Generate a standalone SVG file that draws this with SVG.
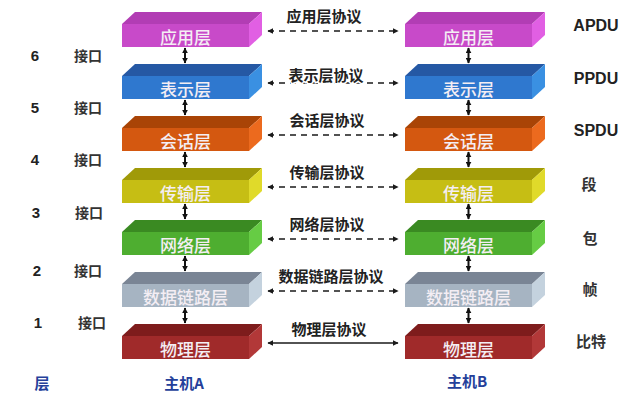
<svg xmlns="http://www.w3.org/2000/svg" width="629" height="401" viewBox="0 0 629 401">
<defs>
<marker id="ah" viewBox="0 0 10 10" refX="9" refY="5" markerWidth="6" markerHeight="6" markerUnits="userSpaceOnUse" orient="auto-start-reverse">
<path d="M0,0 L10,5 L0,10 z" fill="#1a1a1a"/>
</marker>
<marker id="vh" viewBox="0 0 10 10" refX="9" refY="5" markerWidth="6" markerHeight="6" markerUnits="userSpaceOnUse" orient="auto-start-reverse">
<path d="M0,0 L10,5 L0,10 z" fill="#111"/>
</marker>
</defs>
<style>
.bt{font-family:"Noto Sans CJK SC","Noto Sans",sans-serif;font-size:17px;font-weight:500;fill:#f4eef4;text-anchor:middle;dominant-baseline:central}
.pl{font-family:"Noto Sans CJK SC","Noto Sans",sans-serif;font-size:15px;font-weight:bold;fill:#222;text-anchor:middle;dominant-baseline:central;stroke:#fff;stroke-width:3px;paint-order:stroke}
.num{font-family:"Liberation Sans",Arial,sans-serif;font-size:15px;font-weight:bold;fill:#222;text-anchor:middle;dominant-baseline:central}
.jk{font-family:"Noto Sans CJK SC","Noto Sans",sans-serif;font-size:14px;font-weight:bold;fill:#333;text-anchor:middle;dominant-baseline:central}
.pdu{font-family:"Liberation Sans",Arial,sans-serif;font-size:16px;font-weight:bold;fill:#222;text-anchor:middle;dominant-baseline:central}
.pdc{font-family:"Noto Sans CJK SC","Noto Sans",sans-serif;font-size:15px;font-weight:bold;fill:#333;text-anchor:middle;dominant-baseline:central}
.bl{font-family:"Noto Sans CJK SC","Liberation Sans",sans-serif;font-size:15px;font-weight:bold;fill:#24409a;text-anchor:middle;dominant-baseline:central}
.dash{stroke:#1a1a1a;stroke-width:1.6;stroke-dasharray:6 5;fill:none;marker-start:url(#ah);marker-end:url(#ah)}
.solid{stroke:#1a1a1a;stroke-width:1.6;fill:none;marker-start:url(#ah);marker-end:url(#ah)}
.vert{stroke:#111;stroke-width:2;fill:none;marker-start:url(#vh);marker-end:url(#vh)}
</style>
<rect width="629" height="401" fill="#ffffff"/>

<!-- Host A layers -->
<g id="a-app">
<polygon points="122,24 135,12 262,12 249,24" fill="#b23db4"/>
<polygon points="249,24 262,12 262,35 249,47" fill="#e15fe3"/>
<rect x="122" y="24" width="127" height="23" fill="#c84ac9"/>
<text class="bt" x="185.5" y="36">应用层</text>
</g>
<g id="a-pre">
<polygon points="122,76 135,64 262,64 249,76" fill="#2558a4"/>
<polygon points="249,76 262,64 262,87 249,99" fill="#3a90e2"/>
<rect x="122" y="76" width="127" height="23" fill="#2f78cf"/>
<text class="bt" x="185.5" y="88">表示层</text>
</g>
<g id="a-ses">
<polygon points="122,128 135,116 262,116 249,128" fill="#a94406"/>
<polygon points="249,128 262,116 262,139 249,151" fill="#ec6a1e"/>
<rect x="122" y="128" width="127" height="23" fill="#d45810"/>
<text class="bt" x="185.5" y="140">会话层</text>
</g>
<g id="a-tra">
<polygon points="122,180 135,168 262,168 249,180" fill="#a09a08"/>
<polygon points="249,180 262,168 262,191 249,203" fill="#e0da2a"/>
<rect x="122" y="180" width="127" height="23" fill="#c6be14"/>
<text class="bt" x="185.5" y="192">传输层</text>
</g>
<g id="a-net">
<polygon points="122,232 135,220 262,220 249,232" fill="#3a8a22"/>
<polygon points="249,232 262,220 262,243 249,255" fill="#66cc44"/>
<rect x="122" y="232" width="127" height="23" fill="#4eae30"/>
<text class="bt" x="185.5" y="244">网络层</text>
</g>
<g id="a-dl">
<polygon points="122,284 135,272 262,272 249,284" fill="#7a8595"/>
<polygon points="249,284 262,272 262,295 249,307" fill="#c4d2de"/>
<rect x="122" y="284" width="127" height="23" fill="#a6b4c2"/>
<text class="bt" x="185.5" y="296">数据链路层</text>
</g>
<g id="a-phy">
<polygon points="122,336 135,324 262,324 249,336" fill="#7e1c1c"/>
<polygon points="249,336 262,324 262,347 249,359" fill="#b23838"/>
<rect x="122" y="336" width="127" height="23" fill="#a02a2a"/>
<text class="bt" x="185.5" y="348">物理层</text>
</g>

<!-- Host B layers -->
<g id="b-app">
<polygon points="405,24 418,12 545,12 532,24" fill="#b23db4"/>
<polygon points="532,24 545,12 545,35 532,47" fill="#e15fe3"/>
<rect x="405" y="24" width="127" height="23" fill="#c84ac9"/>
<text class="bt" x="468.5" y="36">应用层</text>
</g>
<g id="b-pre">
<polygon points="405,76 418,64 545,64 532,76" fill="#2558a4"/>
<polygon points="532,76 545,64 545,87 532,99" fill="#3a90e2"/>
<rect x="405" y="76" width="127" height="23" fill="#2f78cf"/>
<text class="bt" x="468.5" y="88">表示层</text>
</g>
<g id="b-ses">
<polygon points="405,128 418,116 545,116 532,128" fill="#a94406"/>
<polygon points="532,128 545,116 545,139 532,151" fill="#ec6a1e"/>
<rect x="405" y="128" width="127" height="23" fill="#d45810"/>
<text class="bt" x="468.5" y="140">会话层</text>
</g>
<g id="b-tra">
<polygon points="405,180 418,168 545,168 532,180" fill="#a09a08"/>
<polygon points="532,180 545,168 545,191 532,203" fill="#e0da2a"/>
<rect x="405" y="180" width="127" height="23" fill="#c6be14"/>
<text class="bt" x="468.5" y="192">传输层</text>
</g>
<g id="b-net">
<polygon points="405,232 418,220 545,220 532,232" fill="#3a8a22"/>
<polygon points="532,232 545,220 545,243 532,255" fill="#66cc44"/>
<rect x="405" y="232" width="127" height="23" fill="#4eae30"/>
<text class="bt" x="468.5" y="244">网络层</text>
</g>
<g id="b-dl">
<polygon points="405,284 418,272 545,272 532,284" fill="#7a8595"/>
<polygon points="532,284 545,272 545,295 532,307" fill="#c4d2de"/>
<rect x="405" y="284" width="127" height="23" fill="#a6b4c2"/>
<text class="bt" x="468.5" y="296">数据链路层</text>
</g>
<g id="b-phy">
<polygon points="405,336 418,324 545,324 532,336" fill="#7e1c1c"/>
<polygon points="532,336 545,324 545,347 532,359" fill="#b23838"/>
<rect x="405" y="336" width="127" height="23" fill="#a02a2a"/>
<text class="bt" x="468.5" y="348">物理层</text>
</g>

<!-- connectors -->
<g id="connectors">
<line class="vert" x1="185" y1="48" x2="185" y2="63"/>
<line class="vert" x1="185" y1="100" x2="185" y2="115"/>
<line class="vert" x1="185" y1="152" x2="185" y2="167"/>
<line class="vert" x1="185" y1="204" x2="185" y2="219"/>
<line class="vert" x1="185" y1="256" x2="185" y2="271"/>
<line class="vert" x1="185" y1="308" x2="185" y2="323"/>
<line class="vert" x1="468.5" y1="48" x2="468.5" y2="63"/>
<line class="vert" x1="468.5" y1="100" x2="468.5" y2="115"/>
<line class="vert" x1="468.5" y1="152" x2="468.5" y2="167"/>
<line class="vert" x1="468.5" y1="204" x2="468.5" y2="219"/>
<line class="vert" x1="468.5" y1="256" x2="468.5" y2="271"/>
<line class="vert" x1="468.5" y1="308" x2="468.5" y2="323"/>
<line class="dash" x1="268" y1="31" x2="398" y2="31"/>
<line class="dash" x1="268" y1="83" x2="398" y2="83"/>
<line class="dash" x1="268" y1="135" x2="398" y2="135"/>
<line class="dash" x1="268" y1="187" x2="398" y2="187"/>
<line class="dash" x1="268" y1="239" x2="398" y2="239"/>
<line class="dash" x1="268" y1="291" x2="398" y2="291"/>
<line class="solid" x1="268" y1="343" x2="398" y2="343"/>
</g>

<!-- protocol labels -->
<g id="protocol-labels">
<text class="pl" x="324" y="15">应用层协议</text>
<text class="pl" x="326" y="74">表示层协议</text>
<text class="pl" x="327" y="119">会话层协议</text>
<text class="pl" x="327" y="171">传输层协议</text>
<text class="pl" x="327" y="223">网络层协议</text>
<text class="pl" x="331" y="275">数据链路层协议</text>
<text class="pl" x="329" y="328">物理层协议</text>
</g>

<!-- interface labels -->
<g id="interfaces">
<text class="num" x="35" y="55">6</text>
<text class="jk" x="88" y="55">接口</text>
<text class="num" x="35" y="107">5</text>
<text class="jk" x="88" y="107">接口</text>
<text class="num" x="35" y="159">4</text>
<text class="jk" x="88" y="159">接口</text>
<text class="num" x="36" y="212">3</text>
<text class="jk" x="89" y="212">接口</text>
<text class="num" x="37" y="270">2</text>
<text class="jk" x="88" y="270">接口</text>
<text class="num" x="38" y="322">1</text>
<text class="jk" x="92" y="322">接口</text>
</g>

<!-- PDU labels -->
<g id="pdus">
<text class="pdu" x="596" y="25">APDU</text>
<text class="pdu" x="596" y="78">PPDU</text>
<text class="pdu" x="596" y="130">SPDU</text>
<text class="pdc" x="589" y="183">段</text>
<text class="pdc" x="590" y="237">包</text>
<text class="pdc" x="590" y="288">帧</text>
<text class="pdc" x="591" y="340">比特</text>
</g>

<!-- bottom labels -->
<g id="bottom-labels">
<text class="bl" x="42" y="382">层</text>
<text class="bl" x="184" y="382">主机A</text>
<text class="bl" x="467" y="380">主机B</text>
</g>
</svg>
